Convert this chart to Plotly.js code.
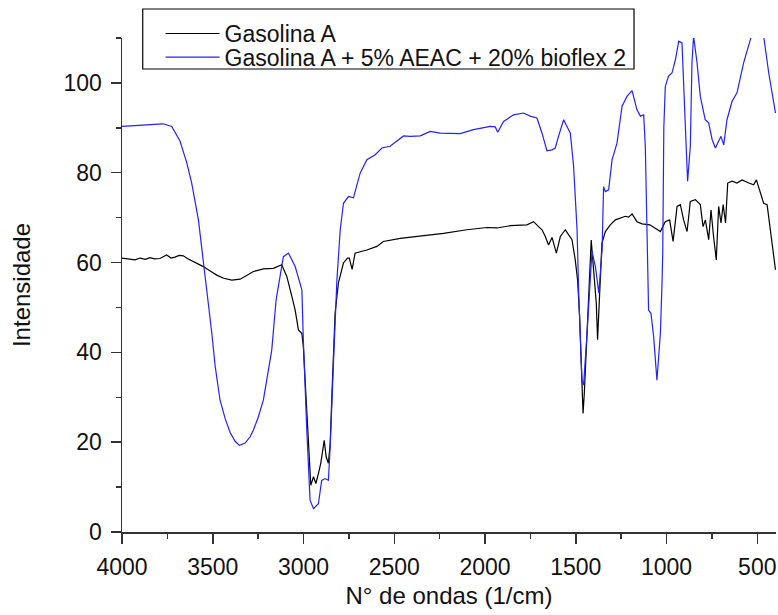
<!DOCTYPE html>
<html>
<head>
<meta charset="utf-8">
<script src="https://cdn.plot.ly/plotly-3.0.1.min.js"></script>
<style>html,body{margin:0;padding:0;background:#fff;}#chart{width:778px;height:615px;}</style>
</head>
<body>
<div id="chart"></div>
<script>
// Series names
const seriesNames = ["Gasolina A", "Gasolina A + 5% AEAC + 20% bioflex 2"];

// Gasolina A (black) — wavenumber (1/cm) and intensity
const waveA = [4000,3960,3928,3900,3870,3846,3820,3791,3770,3754,3730,3708,3685,3662,3640,3625,3590,3552,3510,3478,3440,3395,3349,3313,3276,3221,3166,3120,3092,3064,3046,3028,3009,3001,2982,2969,2960,2945,2932,2918,2905,2886,2875,2863,2853,2844,2826,2808,2780,2758,2748,2732,2716,2688,2651,2596,2560,2467,2357,2229,2100,1989,1934,1861,1769,1733,1705,1686,1668,1650,1631,1607,1585,1558,1540,1521,1503,1490,1479,1466,1460,1453,1438,1424,1415,1402,1387,1380,1370,1361,1356,1337,1310,1282,1255,1227,1209,1190,1163,1135,1092,1062,1034,1007,983,964,942,924,906,887,869,841,814,799,786,768,755,741,726,713,700,688,675,663,639,612,584,547,520,505,483,465,446,428,410,400];
const intA  = [61.0,60.8,60.6,61.0,60.7,61.1,60.8,60.9,61.4,61.7,61.0,61.2,61.6,61.5,60.9,60.6,59.9,59.1,58.0,57.2,56.5,56.1,56.3,57.2,58.0,58.6,58.7,59.5,56.9,52.4,49.4,45.0,44.2,41.3,26.4,15.3,10.4,12.3,10.8,13.0,15.3,20.4,16.7,15.3,19.7,30.1,48.7,55.4,59.9,61.0,61.0,58.5,62.1,62.4,62.8,63.6,64.7,65.4,65.9,66.5,67.3,67.8,67.7,68.2,68.4,69.1,68.0,67.3,65.8,63.9,65.6,62.1,65.8,67.3,66.2,65.1,60.6,56.1,47.9,33.8,26.4,30.9,44.2,59.1,65.0,58.4,50.9,42.8,52.4,59.9,64.3,66.9,68.4,69.5,69.9,70.3,70.1,70.8,69.1,68.6,68.4,67.7,66.9,69.1,69.5,64.7,72.5,72.9,69.5,66.9,73.6,74.0,72.9,68.0,69.5,65.1,71.7,65.8,60.6,72.5,68.8,72.9,68.8,77.7,78.1,77.7,78.4,77.7,77.3,78.4,75.5,73.2,72.9,67.3,62.8,58.4];

// Gasolina A + 5% AEAC + 20% bioflex 2 (blue)
const waveB = [4000,3901,3774,3726,3680,3643,3616,3579,3552,3524,3505,3487,3460,3432,3405,3377,3353,3322,3294,3276,3250,3221,3198,3175,3151,3111,3083,3046,3009,3001,2982,2964,2945,2918,2900,2881,2863,2853,2835,2816,2798,2780,2752,2725,2688,2651,2605,2568,2523,2449,2412,2357,2302,2247,2137,2063,1971,1944,1930,1898,1843,1788,1751,1714,1686,1659,1631,1613,1596,1567,1530,1512,1493,1484,1466,1457,1438,1420,1411,1392,1373,1355,1347,1337,1319,1300,1273,1245,1218,1190,1163,1144,1126,1117,1108,1099,1086,1071,1053,1034,1025,1021,1015,1007,989,970,951,933,915,906,896,884,869,860,851,832,814,787,768,749,731,713,700,685,667,639,612,575,538,505,465,437,400];
const intB  = [90.3,90.6,90.9,90.3,87.0,82.2,77.7,69.5,60.6,51.0,44.2,37.0,29.4,25.3,22.2,20.2,19.3,19.8,21.2,22.7,25.5,29.4,34.5,40.5,51.7,61.3,62.1,59.1,53.9,42.8,22.7,7.1,5.2,6.3,11.5,11.9,11.5,19.0,37.6,56.1,67.2,73.2,74.7,74.4,79.9,82.9,84.0,85.5,85.9,88.2,88.1,88.2,89.2,88.8,88.7,89.6,90.3,90.2,89.0,91.4,92.9,93.3,92.6,92.2,88.8,84.9,85.1,85.5,88.0,91.8,88.8,81.4,67.3,53.2,33.8,32.7,44.2,58.4,62.5,59.1,53.2,63.0,76.9,75.8,76.2,82.9,86.6,94.8,97.0,98.3,94.0,92.6,92.9,85.9,67.3,49.4,48.7,43.5,33.8,44.2,55.4,62.0,90.0,99.2,101.5,102.2,105.2,109.3,108.9,100.7,89.6,78.1,85.9,104.5,110.4,104.5,97.0,91.8,91.1,87.4,85.5,87.0,88.1,86.2,91.8,95.9,97.8,104.5,109.7,113.0,110.4,102.2,93.3];

// Axis ticks
const xTicks = [4000,3500,3000,2500,2000,1500,1000,500];
const yTicks = [0,20,40,60,80,100];

const FONT = "Liberation Sans, Arial, sans-serif";

const traces = [
  {x: waveA, y: intA, type: "scatter", mode: "lines", name: seriesNames[0],
   line: {color: "#000000", width: 1.2}, legend: "legend"},
  {x: waveB, y: intB, type: "scatter", mode: "lines", name: seriesNames[1],
   line: {color: "#2222ff", width: 1.2}, legend: "legend2"}
];

const legendBase = {
  xanchor: "left", yanchor: "middle",
  borderwidth: 0, bgcolor: "rgba(0,0,0,0)",
  font: {family: FONT, size: 23, color: "#111"},
  itemwidth: 54
};

const layout = {
  width: 778, height: 615,
  margin: {l: 122, r: 2, t: 38, b: 83},
  paper_bgcolor: "#ffffff", plot_bgcolor: "#ffffff",
  font: {family: FONT, size: 23, color: "#111"},
  showlegend: true,
  legend: Object.assign({}, legendBase, {x: 0.059, y: 1.009}),
  legend2: Object.assign({}, legendBase, {x: 0.059, y: 0.961}),
  shapes: [{
    type: "rect", xref: "paper", yref: "paper",
    x0: 0.0317, x1: 0.7829, y0: 0.9372, y1: 1.0587,
    line: {color: "#000", width: 1.2}, fillcolor: "#ffffff", layer: "above"
  }],
  xaxis: {
    range: [4000, 397], autorange: false,
    tickvals: xTicks, ticktext: xTicks.map(String),
    ticks: "outside", ticklen: 10, tickwidth: 1.5, tickcolor: "#333",
    minor: {ticks: "outside", ticklen: 5, tickwidth: 1.5, tickcolor: "#333", dtick: 250, tick0: 0},
    showline: true, linecolor: "#333", linewidth: 1.5, mirror: false,
    showgrid: false, zeroline: false, ticklabelstandoff: 4,
    tickfont: {family: FONT, size: 23, color: "#111"},
    title: {text: "N° de ondas (1/cm)", font: {family: FONT, size: 24, color: "#111"}, standoff: 8}
  },
  yaxis: {
    range: [0, 110], autorange: false,
    tickvals: yTicks, ticktext: yTicks.map(String),
    ticks: "outside", ticklen: 10, tickwidth: 1.5, tickcolor: "#333",
    minor: {ticks: "outside", ticklen: 5, tickwidth: 1.5, tickcolor: "#333", dtick: 10, tick0: 0},
    showline: true, linecolor: "#333", linewidth: 1.5, mirror: false,
    showgrid: false, zeroline: false, ticklabelstandoff: 4,
    tickfont: {family: FONT, size: 23, color: "#111"},
    title: {text: "Intensidade", font: {family: FONT, size: 24, color: "#111"}, standoff: 26}
  }
};

Plotly.newPlot("chart", traces, layout, {displayModeBar: false, staticPlot: true});
</script>
</body>
</html>
